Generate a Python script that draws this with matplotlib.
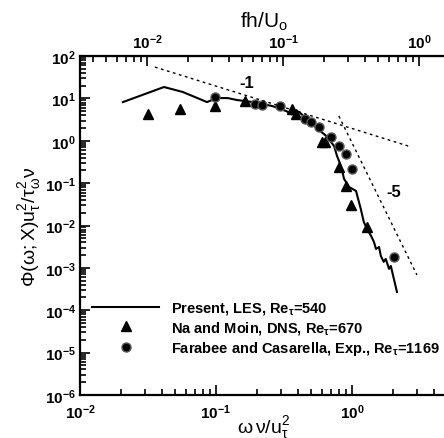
import matplotlib
matplotlib.use("Agg")
import matplotlib.pyplot as plt
from matplotlib.ticker import LogLocator, NullFormatter

plt.rcParams['font.family'] = ['Liberation Sans', 'DejaVu Sans']
plt.rcParams['font.weight'] = 'bold'
plt.rcParams['mathtext.fontset'] = 'custom'
plt.rcParams['mathtext.rm'] = 'Liberation Sans:bold'
plt.rcParams['mathtext.it'] = 'Liberation Sans:bold'
plt.rcParams['mathtext.bf'] = 'Liberation Sans:bold'
plt.rcParams['mathtext.default'] = 'regular'

# present LES spectrum
les_x = [0.0207, 0.0415, 0.057, 0.086, 0.101, 0.122, 0.142, 0.186, 0.26, 0.33, 0.36, 0.39,
         0.409, 0.509, 0.646, 0.738, 0.776, 0.830, 0.874, 0.951, 1.07, 1.16, 1.22, 1.29,
         1.38, 1.45, 1.50, 1.58, 1.63, 1.71, 1.77, 1.87, 1.93, 2.03, 2.14]
les_y = [8.2, 18.6, 14.2, 8.2, 10.2, 10.2, 9.2, 8.2, 6.6, 5.0, 4.2, 5.0,
         4.78, 2.49, 1.30, 0.754, 0.438, 0.255, 0.126, 0.0813, 0.0655, 0.0246, 0.0122, 0.0083,
         0.0057, 0.0041, 0.0028, 0.0031, 0.0019, 0.00139, 0.00163, 0.00095, 0.00111, 0.00055, 0.00027]

# Na and Moin DNS
dns_x = [0.0316, 0.054, 0.098, 0.163, 0.36, 0.39, 0.60, 0.63, 0.80, 0.90, 0.98, 1.29]
dns_y = [4.3, 5.6, 6.6, 8.7, 5.6, 4.3, 0.94, 0.94, 0.24, 0.086, 0.0306, 0.0093]

# Farabee and Casarella experiment
exp_x = [0.098, 0.193, 0.217, 0.296, 0.45, 0.50, 0.573, 0.70, 0.80, 0.904, 1.0, 2.03]
exp_y = [10.8, 7.4, 7.0, 6.6, 3.3, 2.77, 2.11, 1.23, 0.75, 0.49, 0.216, 0.0018]

# reference slopes
slope1_x = [0.0356, 2.6]
slope1_y = [55.0, 0.75]
slope5_x = [0.80, 3.0]
slope5_y = [3.85, 6.8e-4]

fig = plt.figure(figsize=(4.44, 4.39), dpi=100)
ax = fig.add_axes([0.180, 0.098, 0.827, 0.772])

ax.plot(les_x, les_y, color='black', lw=1.5, label=r'Present, LES, Re$_\tau$=540')
ax.plot(dns_x, dns_y, '^', color='black', ms=6.5, label=r'Na and Moin, DNS, Re$_\tau$=670')
ax.plot(exp_x, exp_y, 'o', color='black', mfc='black', mec='0.35', ms=6.5,
        label=r'Farabee and Casarella, Exp., Re$_\tau$=1169')
ax.plot(slope1_x, slope1_y, color='black', lw=1.0, ls=(0, (2, 2.5)))
ax.plot(slope5_x, slope5_y, color='black', lw=1.0, ls=(0, (2, 2.5)))
ax.text(0.167, 24.4, '-1', fontsize=12, ha='center', va='center')
ax.text(2.03, 0.062, '-5', fontsize=12, ha='center', va='center')

ax.set_xscale('log')
ax.set_yscale('log')
ax.set_xlim(0.01, 5)
ax.set_ylim(1e-6, 1e2)

ax.yaxis.set_major_locator(LogLocator(base=10, numticks=20))
ax.yaxis.set_minor_locator(LogLocator(base=10, subs=range(2, 10), numticks=20))
ax.yaxis.set_minor_formatter(NullFormatter())
ax.xaxis.set_minor_formatter(NullFormatter())
ax.tick_params(which='both', direction='in', labelsize=11, width=1.2)
ax.tick_params(which='major', length=7)
ax.tick_params(which='minor', length=4)
ax.tick_params(axis='x', which='both', top=False)
ax.tick_params(axis='x', pad=5)
ax.tick_params(axis='y', pad=3)

for side in ['left', 'bottom', 'top']:
    ax.spines[side].set_linewidth(1.6)
ax.spines['right'].set_visible(False)

ax.set_xlabel(r'$\omega\,\nu/u_\tau^2$', fontsize=14, labelpad=-5)
ax.set_ylabel(r'$\Phi(\omega;X)u_\tau^2/\tau_\omega^2\nu$', fontsize=14, labelpad=1)

top = ax.secondary_xaxis('top', functions=(lambda x: x / 3.11, lambda x: x * 3.11))
top.set_xscale('log')
top.tick_params(which='both', direction='in', labelsize=11, width=1.2)
top.tick_params(which='major', length=7)
top.tick_params(which='minor', length=4)
top.xaxis.set_minor_formatter(NullFormatter())
top.set_xlabel(r'fh/U$_o$', fontsize=15, labelpad=4)

ax.legend(loc='upper left', bbox_to_anchor=(0.005, 0.31), frameon=False, fontsize=10.5,
          handlelength=4.6, handletextpad=0.85, labelspacing=0.2, borderpad=0.2)

fig.savefig('out.png', dpi=100)
